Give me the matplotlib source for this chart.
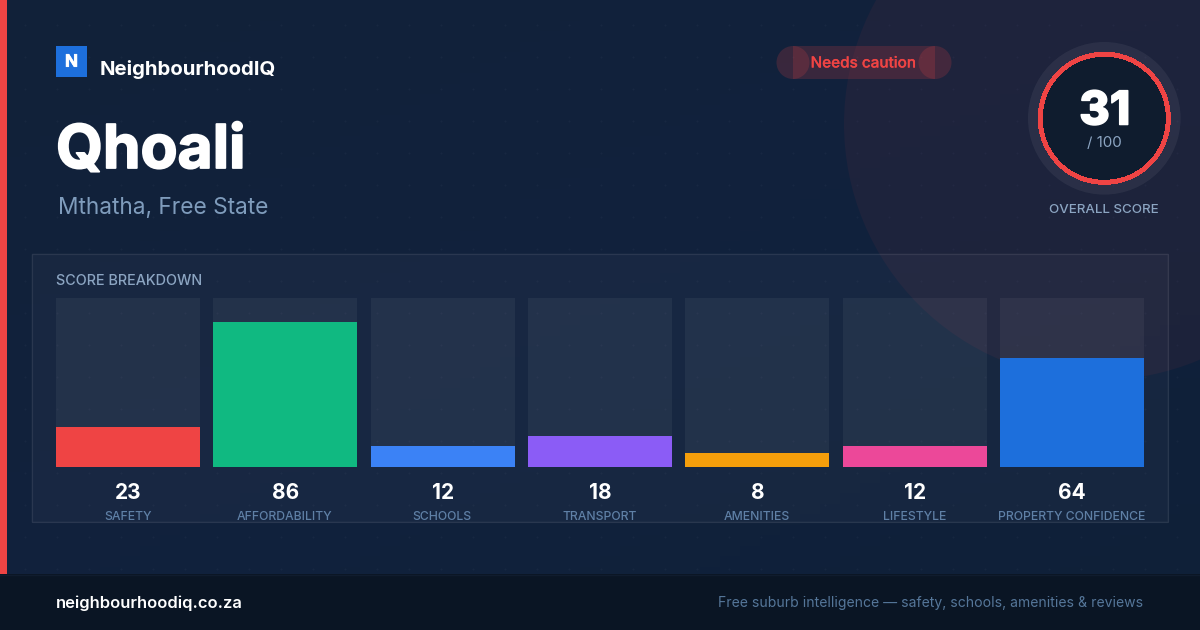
import numpy as np
import matplotlib
matplotlib.use("Agg")
import matplotlib.pyplot as plt
import matplotlib.patheffects as pe
from matplotlib.patches import Rectangle, Circle
from matplotlib.colors import LinearSegmentedColormap

categories = ["SAFETY", "AFFORDABILITY", "SCHOOLS", "TRANSPORT", "AMENITIES", "LIFESTYLE", "PROPERTY CONFIDENCE"]
scores = [23, 86, 12, 18, 8, 12, 64]
bar_colors = ["#ef4444", "#10b981", "#3b82f6", "#8b5cf6", "#f59e0b", "#ec4899", "#1d6fdc"]
overall = 31
place = "Qhoali"
region = "Mthatha, Free State"
brand = "NeighbourhoodIQ"
badge = "Needs caution"
domain = "neighbourhoodiq.co.za"
tagline = "Free suburb intelligence \u2014 safety, schools, amenities & reviews"

plt.rcParams['font.family'] = ['Inter', 'DejaVu Sans']
W, H = 1200, 630
RED = '#ef4444'
fig = plt.figure(figsize=(W/100, H/100), dpi=100)
bg = fig.add_axes([0, 0, 1, 1])
bg.set_xlim(0, W); bg.set_ylim(H, 0); bg.axis('off')


def fat(width, color='white'):
    return [pe.withStroke(linewidth=width, foreground=color)]


cmap = LinearSegmentedColormap.from_list('b', ['#122139', '#11223d', '#0f2038'])
gx, gy = np.meshgrid(np.linspace(0, 1, 60), np.linspace(0, 1, 60))
bg.imshow((gx + gy) / 2, extent=[0, W, H, 0], cmap=cmap, aspect='auto', zorder=0)
bg.set_xlim(0, W); bg.set_ylim(H, 0)

dx = np.arange(24.5, W, 32); dy = np.arange(24.5, 574, 32)
xx, yy = np.meshgrid(dx, dy)
bg.scatter(xx.ravel(), yy.ravel(), s=2.2, c='white', alpha=0.03, linewidths=0, zorder=1)

bg.add_patch(Circle((1100, 124), 256, fc=RED, alpha=0.06, ec='none', zorder=2))

# panel
bg.add_patch(Rectangle((32, 254), 1137, 269, fc='white', alpha=0.03, ec='none', zorder=3))
bg.add_patch(Rectangle((32.4, 254.4), 1136, 268, fc='none', ec=(1, 1, 1, 0.08), lw=1, zorder=3, snap=False))

# left accent and footer
bg.add_patch(Rectangle((0, 0), 7, 574, fc=RED, ec='none', zorder=6))
bg.add_patch(Rectangle((0, 574), W, 56, fc='#0a1524', ec='none', zorder=6))
bg.plot([0, W], [574.5, 574.5], color='#101c2e', lw=1, zorder=7)

# logo
bg.add_patch(Rectangle((56, 46), 31, 31, fc='#1d6fdc', ec='none', zorder=6))
bg.text(71.5, 66.7, "N", color='white', fontsize=12.3, fontweight='bold', ha='center', va='baseline', zorder=7,
        path_effects=fat(0.5))
bg.text(100, 75, brand, color='white', fontsize=14.65, fontweight='bold', ha='left', va='baseline', zorder=7)
bg.text(56, 168, place, color='white', fontsize=43.5, fontweight='bold', ha='left', va='baseline', zorder=7,
        path_effects=fat(1.3))
bg.text(58, 214.5, region, color='#7f9cbc', fontsize=16.35, ha='left', va='baseline', zorder=7)

# badge
for patch in (Rectangle((793, 46), 142, 33, fc=RED, alpha=0.18, ec='none', zorder=4),
              Circle((793, 62.5), 16.5, fc=RED, alpha=0.18, ec='none', zorder=4),
              Circle((935, 62.5), 16.5, fc=RED, alpha=0.18, ec='none', zorder=4)):
    bg.add_patch(patch)
bg.text(863.5, 67.5, badge, color=RED, fontsize=11, fontweight='medium', ha='center', va='baseline', zorder=7,
        path_effects=fat(0.15, RED))

# gauge
cx, cy = 1104.3, 118.3
bg.add_patch(Circle((cx, cy), 76.3, fc=(1, 1, 1, 0.06), ec='none', zorder=4))
bg.add_patch(Circle((cx, cy), 66, fc=RED, ec='none', zorder=5, antialiased=False))
bg.add_patch(Circle((cx, cy), 61, fc='#0f1c2e', ec='none', zorder=5, antialiased=False))
bg.text(cx + 0.5, 124.5, str(overall), color='white', fontsize=33.5, fontweight='heavy', ha='center', va='baseline',
        zorder=7, path_effects=fat(1.1))
bg.text(cx, 147, "/ 100", color='#8ca5c2', fontsize=10.9, ha='center', va='baseline', zorder=7)
bg.text(cx, 213, "OVERALL SCORE", color='#8ca5c2', fontsize=9.6, fontweight='medium', ha='center', va='baseline',
        zorder=7)

bg.text(56, 285, "SCORE BREAKDOWN", color='#8ca5c2', fontsize=10.35, fontweight='medium', ha='left', va='baseline',
        zorder=7)

# bars
step = (1144 - 200) / 6
ax = fig.add_axes([56/W, 1 - 467/H, 1088/W, 169/H])
ax.patch.set_alpha(0); ax.axis('off')
base = -0.6
ax.set_xlim(-72/step, 6 + 72/step); ax.set_ylim(base, 100)
idx = np.arange(len(scores))
ax.bar(idx, [100 - base]*len(scores), bottom=base, width=144/step, color=(1, 1, 1, 0.05), linewidth=0)
ax.bar(idx, np.array(scores) - base, bottom=base, width=144/step, color=bar_colors, linewidth=0)

for i, (c, s) in enumerate(zip(categories, scores)):
    x = 127.6 + i*step
    bg.text(x + 0.4, 499, str(s), color='white', fontsize=15, fontweight='bold', ha='center', va='baseline', zorder=7)
    bg.text(x, 520, c, color='#5f80a6', fontsize=8.8, fontweight='medium', ha='center', va='baseline', zorder=7)

bg.text(56, 608, domain, color='white', fontsize=11.9, fontweight='semibold', ha='left', va='baseline', zorder=7)
bg.text(1143, 607, tagline, color='#557699', fontsize=10.08, ha='right', va='baseline', zorder=7)

fig.savefig('out.png', dpi=100)
